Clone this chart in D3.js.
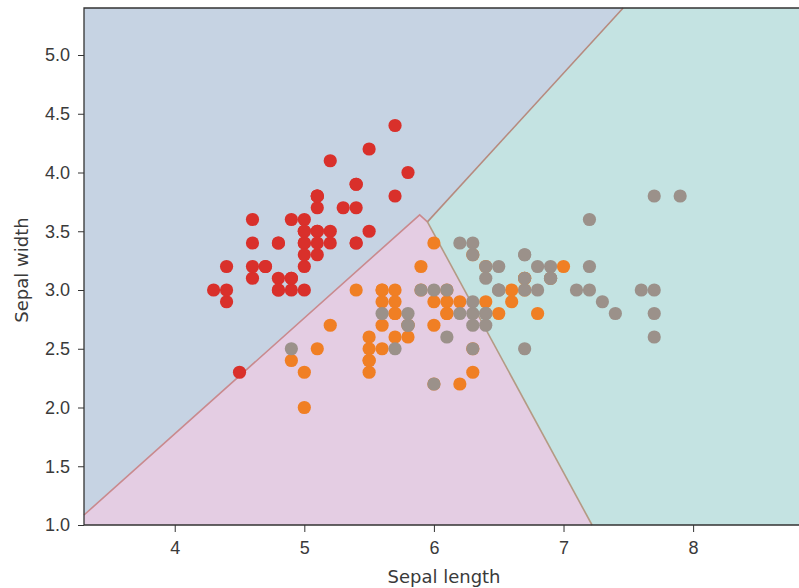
<!DOCTYPE html>
<html>
<head>
<meta charset="utf-8">
<script src="https://cdn.jsdelivr.net/npm/d3@7"></script>
<style>
  body { margin: 0; background: #fff; }
  svg { display: block; font-family: "DejaVu Sans", sans-serif; }
</style>
</head>
<body>
<svg id="drawing_region"></svg>
<script>
// iris sepal measurements [length, width]
const setosa = [
  [5.1,3.5],[4.9,3.0],[4.7,3.2],[4.6,3.1],[5.0,3.6],[5.4,3.9],[4.6,3.4],[5.0,3.4],[4.4,2.9],[4.9,3.1],
  [5.4,3.7],[4.8,3.4],[4.8,3.0],[4.3,3.0],[5.8,4.0],[5.7,4.4],[5.4,3.9],[5.1,3.5],[5.7,3.8],[5.1,3.8],
  [5.4,3.4],[5.1,3.7],[4.6,3.6],[5.1,3.3],[4.8,3.4],[5.0,3.0],[5.0,3.4],[5.2,3.5],[5.2,3.4],[4.7,3.2],
  [4.8,3.1],[5.4,3.4],[5.2,4.1],[5.5,4.2],[4.9,3.1],[5.0,3.2],[5.5,3.5],[4.9,3.6],[4.4,3.0],[5.1,3.4],
  [5.0,3.5],[4.5,2.3],[4.4,3.2],[5.0,3.5],[5.1,3.8],[4.8,3.0],[5.1,3.8],[4.6,3.2],[5.3,3.7],[5.0,3.3]
];
const versicolor = [
  [7.0,3.2],[6.4,3.2],[6.9,3.1],[5.5,2.3],[6.5,2.8],[5.7,2.8],[6.3,3.3],[4.9,2.4],[6.6,2.9],[5.2,2.7],
  [5.0,2.0],[5.9,3.0],[6.0,2.2],[6.1,2.9],[5.6,2.9],[6.7,3.1],[5.6,3.0],[5.8,2.7],[6.2,2.2],[5.6,2.5],
  [5.9,3.2],[6.1,2.8],[6.3,2.5],[6.1,2.8],[6.4,2.9],[6.6,3.0],[6.8,2.8],[6.7,3.0],[6.0,2.9],[5.7,2.6],
  [5.5,2.4],[5.5,2.4],[5.8,2.7],[6.0,2.7],[5.4,3.0],[6.0,3.4],[6.7,3.1],[6.3,2.3],[5.6,3.0],[5.5,2.5],
  [5.5,2.6],[6.1,3.0],[5.8,2.6],[5.0,2.3],[5.6,2.7],[5.7,3.0],[5.7,2.9],[6.2,2.9],[5.1,2.5],[5.7,2.8]
];
const virginica = [
  [6.3,3.3],[5.8,2.7],[7.1,3.0],[6.3,2.9],[6.5,3.0],[7.6,3.0],[4.9,2.5],[7.3,2.9],[6.7,2.5],[7.2,3.6],
  [6.5,3.2],[6.4,2.7],[6.8,3.0],[5.7,2.5],[5.8,2.8],[6.4,3.2],[6.5,3.0],[7.7,3.8],[7.7,2.6],[6.0,2.2],
  [6.9,3.2],[5.6,2.8],[7.7,2.8],[6.3,2.7],[6.7,3.3],[7.2,3.2],[6.2,2.8],[6.1,3.0],[6.4,2.8],[7.2,3.0],
  [7.4,2.8],[7.9,3.8],[6.4,2.8],[6.3,2.8],[6.1,2.6],[7.7,3.0],[6.3,3.4],[6.4,3.1],[6.0,3.0],[6.9,3.1],
  [6.7,3.1],[6.9,3.1],[5.8,2.7],[6.8,3.2],[6.7,3.3],[6.7,3.0],[6.3,2.5],[6.5,3.0],[6.2,3.4],[5.9,3.0]
];

// decision regions (polygon vertices, data units)
const region_setosa = [[3.3,5.4],[7.46,5.4],[5.95,3.58],[5.89,3.64],[3.3,1.085]];
const region_versicolor = [[3.3,1.085],[5.89,3.64],[5.95,3.58],[7.22,1.0],[3.3,1.0]];
const region_virginica = [[7.46,5.4],[8.9,5.4],[8.9,1.0],[7.22,1.0],[5.95,3.58]];

const x_ticks = [4, 5, 6, 7, 8];
const y_ticks = [1.0, 1.5, 2.0, 2.5, 3.0, 3.5, 4.0, 4.5, 5.0];

const config = {
  width: 799, height: 588,
  left: 84, top: 8, bottom: 525
};

const svg = d3.select('#drawing_region')
  .attr('width', config.width)
  .attr('height', config.height);

const xscale = d3.scaleLinear().domain([3.3, 8.9]).range([config.left, config.left + 5.6 * 129.6]);
const yscale = d3.scaleLinear().domain([1.0, 5.4]).range([config.bottom, config.top]);

const line = d3.line().x(d => xscale(d[0])).y(d => yscale(d[1]));

const regions = [
  {pts: region_setosa, fill: '#c6d3e3'},
  {pts: region_versicolor, fill: '#e4cde3'},
  {pts: region_virginica, fill: '#c4e3e2'}
];

svg.append('g').selectAll('path')
  .data(regions)
  .join('path')
  .attr('d', d => line(d.pts) + 'Z')
  .attr('fill', d => d.fill);

// boundaries between regions
const boundaries = [
  {pts: [region_setosa[4], region_setosa[3], region_setosa[2]], color: '#c98a8e'},
  {pts: [region_setosa[2], region_setosa[1]], color: '#b68a7e'},
  {pts: [region_virginica[4], region_virginica[3]], color: '#b49a84'}
];
svg.append('g').selectAll('path')
  .data(boundaries)
  .join('path')
  .attr('d', d => line(d.pts))
  .attr('fill', 'none')
  .attr('stroke', d => d.color)
  .attr('stroke-width', 1.6);

const groups = [
  {data: setosa, color: '#d9302b'},
  {data: versicolor, color: '#f07f24'},
  {data: virginica, color: '#9b918a'}
];
groups.forEach(g => {
  svg.append('g').selectAll('circle')
    .data(g.data)
    .join('circle')
    .attr('cx', d => xscale(d[0]))
    .attr('cy', d => yscale(d[1]))
    .attr('r', 6.6)
    .attr('fill', g.color);
});

// axes
const xaxis = d3.axisBottom(xscale).tickValues(x_ticks).tickSize(7).tickPadding(9).tickFormat(d3.format('d'));
const yaxis = d3.axisLeft(yscale).tickValues(y_ticks).tickSize(6).tickPadding(8).tickFormat(d3.format('.1f'));

const xg = svg.append('g').attr('transform', `translate(0,${config.bottom})`).call(xaxis);
const yg = svg.append('g').attr('transform', `translate(${config.left},0)`).call(yaxis);
[xg, yg].forEach(g => {
  g.select('.domain').remove();
  g.selectAll('line').attr('stroke', '#333');
  g.selectAll('text').attr('fill', '#3a3a3a').style('font-size', '18px');
});

// spines
svg.append('path')
  .attr('d', `M${config.width},${config.top} H${config.left} V${config.bottom} H${config.width}`)
  .attr('fill', 'none')
  .attr('stroke', '#333')
  .attr('stroke-width', 1.3);

svg.append('text')
  .attr('x', 444).attr('y', 583)
  .attr('text-anchor', 'middle')
  .attr('fill', '#3a3a3a')
  .style('font-size', '18px')
  .text('Sepal length');

svg.append('text')
  .attr('transform', 'rotate(-90)')
  .attr('x', -270).attr('y', 28)
  .attr('text-anchor', 'middle')
  .attr('fill', '#3a3a3a')
  .style('font-size', '18px')
  .text('Sepal width');
</script>
</body>
</html>
